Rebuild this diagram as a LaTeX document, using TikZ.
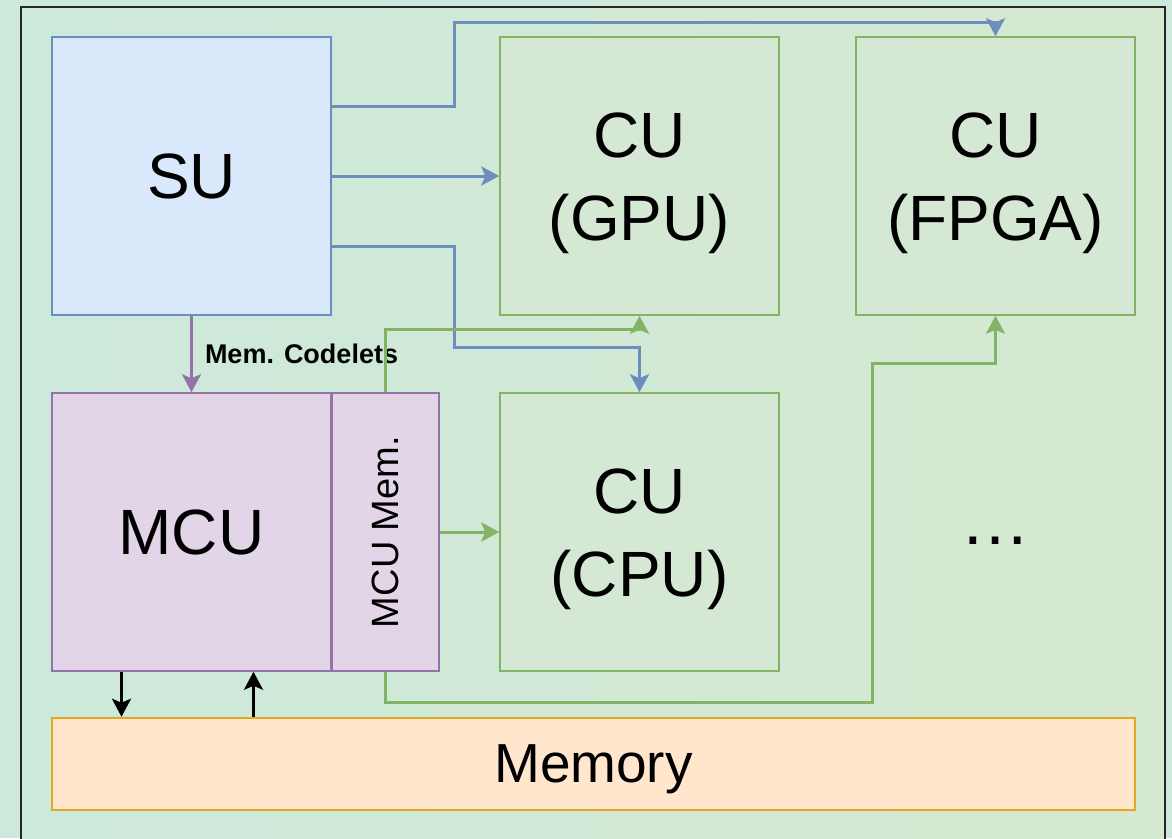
\documentclass[tikz,border=0pt]{standalone}
\usepackage{fontspec}
\setmainfont{Liberation Sans}
\usetikzlibrary{arrows.meta,positioning}

\definecolor{suFill}{HTML}{DAE8FC}
\definecolor{suLine}{HTML}{6C8EBF}
\definecolor{cuFill}{HTML}{D5E8D4}
\definecolor{cuLine}{HTML}{82B366}
\definecolor{mcuFill}{HTML}{E1D5E7}
\definecolor{mcuLine}{HTML}{9673A6}
\definecolor{memFill}{HTML}{FFE6CC}
\definecolor{memLine}{HTML}{E2A823}
\definecolor{bgLeft}{HTML}{CDE9DB}
\definecolor{bgRight}{HTML}{D4E9D0}

\newcommand{\toppad}{\rule{0pt}{60pt}}

\begin{document}
\begin{tikzpicture}[x=1pt, y=-1pt, node distance=356pt,
    box/.style={draw, line width=1.5pt, minimum width=279pt, minimum height=278pt,
                inner sep=0pt, align=center, font=\fontsize{64}{83}\selectfont},
    sunit/.style={box, fill=suFill, draw=suLine},
    cunit/.style={box, fill=cuFill, draw=cuLine},
    munit/.style={box, fill=mcuFill, draw=mcuLine},
    tip/.style={-{Stealth[length=18pt, width=19pt, inset=4pt]}, line width=3pt},
    blue link/.style={tip, draw=suLine},
    green link/.style={tip, draw=cuLine},
    mem link/.style={tip, draw=black}]
                        \useasboundingbox (0,0) rectangle (1172,838);
                        \fill[bgLeft] (0,0) rectangle (1172,838);
                        \shade[left color=bgLeft, right color=bgRight] (21,7) rectangle (1165,860);
                        \draw[line width=2pt, black!85] (21,7) rectangle (1165,860);
                        \node (su) [sunit] at (191.5,176) {SU};
                        \node (gpu) [cunit, right of=su, xshift=92pt] {\toppad CU\\(GPU)};
                        \node (fpga) [cunit, right of=gpu] {\toppad CU\\(FPGA)};
                        \node (mcu) [munit, below of=su] {MCU};
                        \node (mcumem) [munit, minimum width=106.5pt, right=0pt of mcu,
                                        font=\fontsize{38}{46}\selectfont] {\rotatebox{90}{MCU Mem.}};
                        \node (cpu) [cunit, below of=gpu] {\toppad CU\\(CPU)};
                        \node (dots) [font=\fontsize{70}{80}\selectfont, inner sep=0pt] at (995,541) {\ldots};
                        \node (mem) [draw=memLine, fill=memFill, line width=2.5pt, minimum width=1083pt,
                                     minimum height=92pt, font=\fontsize{55}{66}\selectfont] at (593.5,764) {\rule{0pt}{48pt}Memory};
                        \draw[blue link] ([yshift=70pt]su.east) -| (454,22) -| (fpga.north);
                        \draw[blue link] (su) -- (gpu);
                        \draw[blue link] ([yshift=-70pt]su.east) -| (454,347) -| (cpu.north);
                        \draw[tip, draw=mcuLine] (su) -- (mcu)
                            node [midway, right=12pt, inner sep=0pt, font=\fontsize{27}{32}\selectfont\bfseries] {Mem. Codelets};
                        \draw[green link] (mcumem.north) -- ++(0,-63) -| (gpu.south);
                        \draw[green link] (mcumem) -- (cpu);
                        \draw[green link] (mcumem.south) |- (872,702) -- (872,363) -| (fpga.south);
                        \draw[mem link] ([xshift=-70pt]mcu.south) -- ([xshift=-70pt]mcu.south |- mem.north);
                        \draw[mem link] ([xshift=62pt]mcu.south |- mem.north) -- ([xshift=62pt]mcu.south);
                    \end{tikzpicture}
\end{document}
